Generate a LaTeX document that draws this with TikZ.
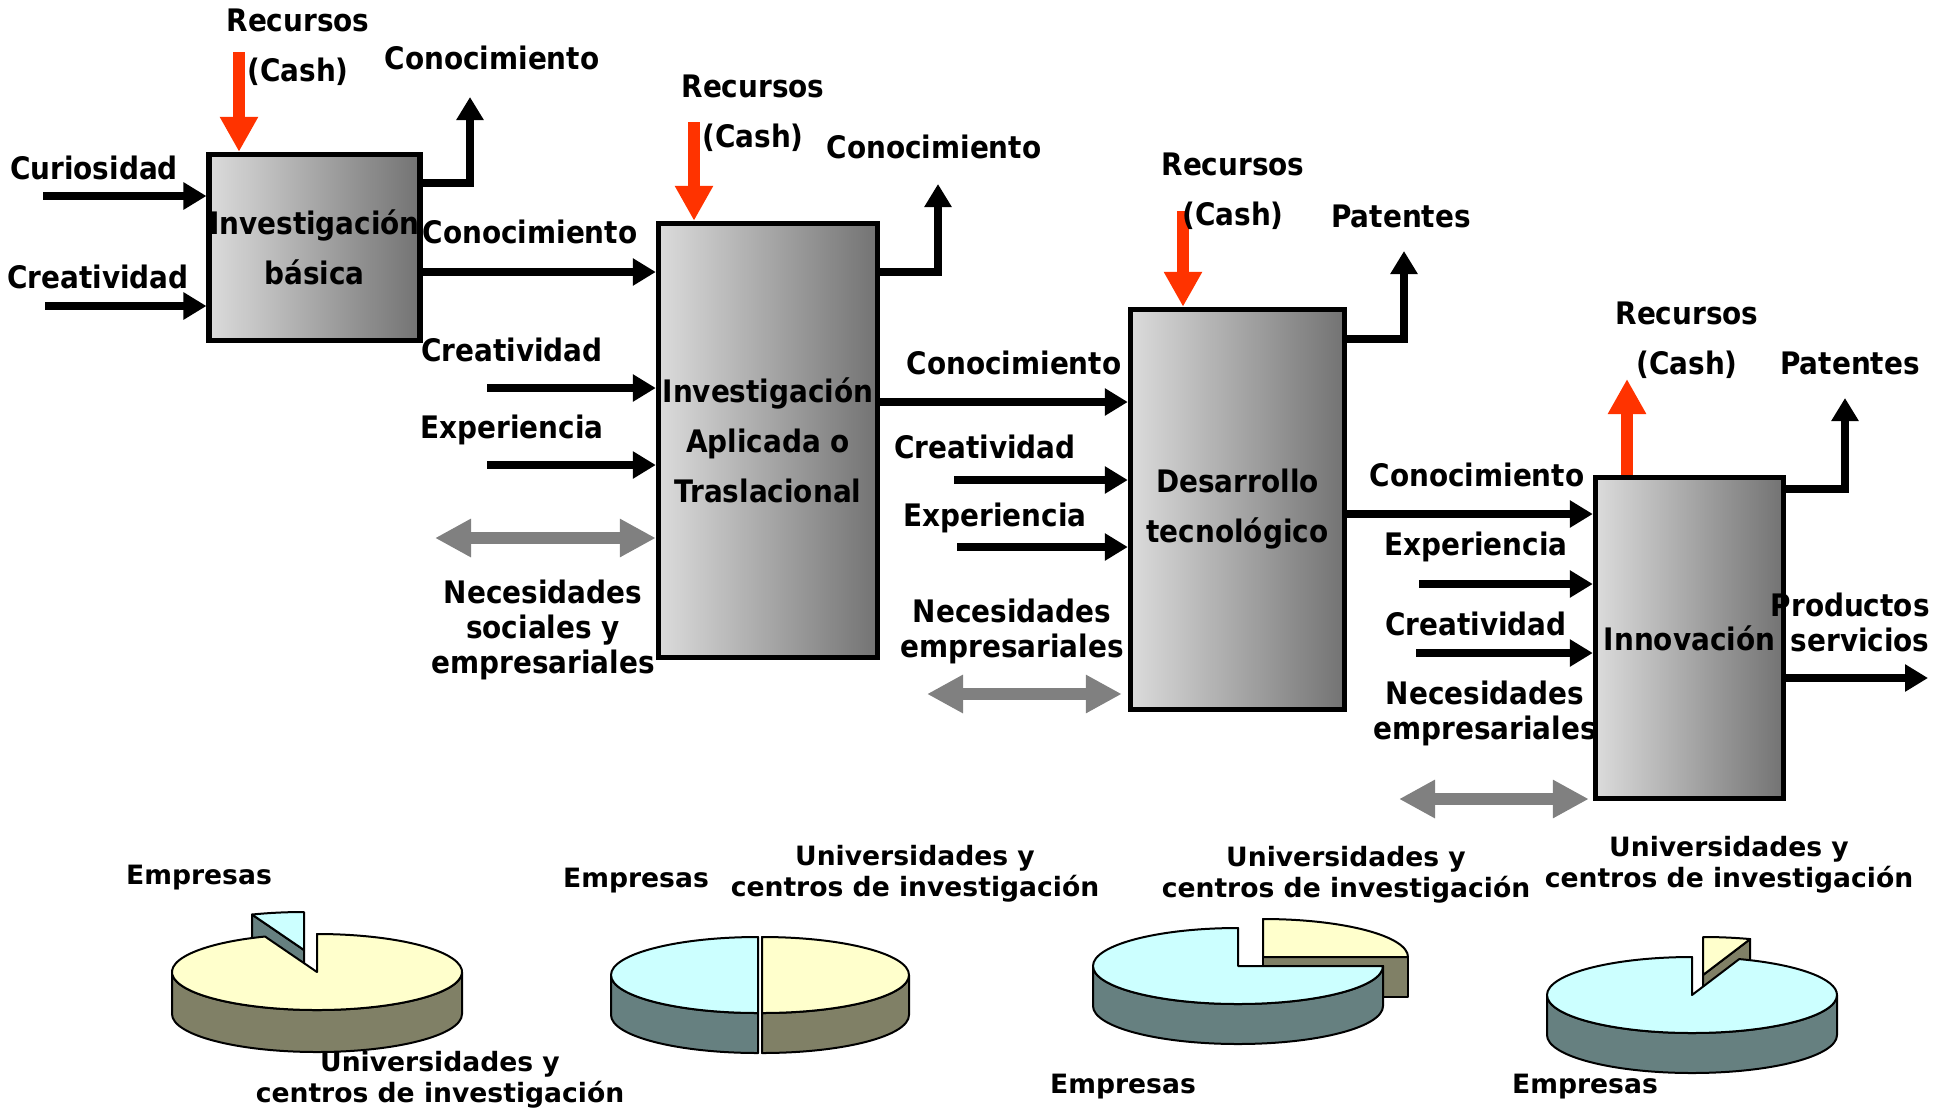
\documentclass[tikz,border=0pt]{standalone}
\usepackage{fontspec}
\setmainfont{DejaVu Sans Condensed}
\newfontfamily\tartafont{DejaVu Sans}
\usetikzlibrary{arrows.meta}

\definecolor{rojo}{HTML}{FF3300}
\definecolor{gris}{HTML}{808080}
\definecolor{cieloTop}{HTML}{CCFFFF}
\definecolor{cieloLado}{HTML}{668080}
\definecolor{cremaTop}{HTML}{FFFFCC}
\definecolor{cremaLado}{HTML}{808066}

\newcommand\etiq{\bfseries\fontsize{15.5}{25}\selectfont}
\newcommand\etiqnec{\bfseries\fontsize{15.5}{17.5}\selectfont}
\newcommand\etiqtarta{\tartafont\bfseries\fontsize{13.3}{15.5}\selectfont}

\tikzset{
  caja/.style={draw, line width=2.7pt, left color=black!14, right color=black!55,
    align=center, font=\etiq, inner sep=0pt},
  flecha/.style={line width=4.3pt, -{Triangle[length=11.5pt,width=13pt]}},
  recurso/.style={rojo, line width=6pt, -{Triangle[length=17.5pt,width=18pt]}},
  necesidad/.style={gris, line width=6pt,
    {Triangle[length=18pt,width=18pt]}-{Triangle[length=18pt,width=18pt]}},
  texto/.style={font=\etiq, align=center, inner sep=0pt},
  textonec/.style={font=\etiqnec, align=center, inner sep=0pt},
  textotarta/.style={font=\etiqtarta, align=center, inner sep=0pt},
  pastel/.style={draw=black, line width=1pt, line join=round}
}

\begin{document}
\begin{tikzpicture}[x=0.5pt, y=-0.5pt]
\useasboundingbox (0,0) rectangle (1948,1114);

% las cuatro etapas
\node[caja, minimum width=98pt, minimum height=93pt] (ib) at (314.5,247.5) {Investigación\\básica};
\node[caja, minimum width=109.5pt, minimum height=217pt] (iat) at (768,440.5) {Investigación\\Aplicada o\\Traslacional};
\node[caja, minimum width=107pt, minimum height=200pt] (dt) at (1237.5,509.5) {Desarrollo\\tecnológico};
\node[caja, minimum width=94pt, minimum height=160.5pt] (inn) at (1689.5,638) {Innovación};

% extremos libres
\coordinate (cur) at (43,196);
\coordinate (cre1) at (45,306);
\coordinate (rec1) at (239,52);
\coordinate (sal1) at (470,97);
\coordinate (cre2) at (487,388);
\coordinate (exp2) at (487,465);
\coordinate (nec2) at (435,538);
\coordinate (rec2) at (694,122);
\coordinate (sal2) at (938,184);
\coordinate (cre3) at (954,480);
\coordinate (exp3) at (957,547);
\coordinate (nec3) at (927,694);
\coordinate (rec3) at (1183,211);
\coordinate (sal3) at (1404,251);
\coordinate (exp4) at (1419,584);
\coordinate (cre4) at (1416,653);
\coordinate (nec4) at (1399,799);
\coordinate (rec4) at (1627,379);
\coordinate (sal4) at (1845,398);
\coordinate (prod) at (1928,678);

% entradas y salidas
\draw[flecha] (cur) -- (cur -| ib.west);
\draw[flecha] (cre1) -- (cre1 -| ib.west);
\draw[recurso] (rec1) -- (rec1 |- ib.north);
\draw[flecha] (ib.east |- 0,183) -| (sal1);
\draw[flecha] (ib.east |- 0,272) -- (iat.west |- 0,272);

\draw[flecha] (cre2) -- (cre2 -| iat.west);
\draw[flecha] (exp2) -- (exp2 -| iat.west);
\draw[necesidad] (nec2) -- (nec2 -| iat.west);
\draw[recurso] (rec2) -- (rec2 |- iat.north);
\draw[flecha] (iat.east |- 0,272) -| (sal2);
\draw[flecha] (iat.east |- 0,402) -- (dt.west |- 0,402);

\draw[flecha] (cre3) -- (cre3 -| dt.west);
\draw[flecha] (exp3) -- (exp3 -| dt.west);
\draw[necesidad] (nec3) -- ([xshift=-3pt]nec3 -| dt.west);
\draw[recurso] (rec3) -- (rec3 |- dt.north);
\draw[flecha] (dt.east |- 0,339) -| (sal3);
\draw[flecha] (dt.east |- 0,514) -- (inn.west |- 0,514);

\draw[flecha] (exp4) -- (exp4 -| inn.west);
\draw[flecha] (cre4) -- (cre4 -| inn.west);
\draw[necesidad] (nec4) -- ([xshift=-2pt]nec4 -| inn.west);
\draw[recurso] (rec4 |- inn.north) -- (rec4);
\draw[flecha] (inn.east |- 0,489) -| (sal4);
\draw[flecha] (inn.east |- prod) -- (prod);

% etiquetas
\node[texto] (trec1) at (298,47) {Recursos\\(Cash)};
\node[texto] (trec2) at (753,113) {Recursos\\(Cash)};
\node[texto] (trec3) at (1233,191) {Recursos\\(Cash)};
\node[texto] (trec4) at (1687,340) {Recursos\\(Cash)};
\node[texto] (tsal1) at (492,58) {Conocimiento};
\node[texto] (tsal2) at (934,147) {Conocimiento};
\node[texto] (tsal3) at (1401,216) {Patentes};
\node[texto] (tsal4) at (1850,363) {Patentes};
\node[texto] (tcur) at (94,168) {Curiosidad};
\node[texto] (tcre1) at (98,277) {Creatividad};
\node[texto] (tcon2) at (530,232) {Conocimiento};
\node[texto] (tcre2) at (512,350) {Creatividad};
\node[texto] (texp2) at (512,430) {Experiencia};
\node[textonec] (tnec2) at (543,630) {Necesidades\\sociales y\\empresariales};
\node[texto] (tcon3) at (1014,363) {Conocimiento};
\node[texto] (tcre3) at (985,447) {Creatividad};
\node[texto] (texp3) at (995,518) {Experiencia};
\node[textonec] (tnec3) at (1012,631) {Necesidades\\empresariales};
\node[texto] (tcon4) at (1477,475) {Conocimiento};
\node[texto] (texp4) at (1476,547) {Experiencia};
\node[texto] (tcre4) at (1476,624) {Creatividad};
\node[textonec] (tnec4) at (1485,713) {Necesidades\\empresariales};
\node[textonec, align=right, anchor=east] (tprod) at (1930,622) {Productos\\servicios};

% tarta 1
\fill[cieloLado, pastel] (304,950) -- ++(-111:145 and 38) -- ++(0,42) -- (304,992) -- cycle;
\fill[cieloTop, pastel] (304,950) -- ++(-90:145 and 38) arc[start angle=-90, end angle=-111, x radius=145, y radius=38] -- cycle;
\fill[cremaLado, pastel] (172,972) -- ++(0,42) arc[start angle=180, end angle=0, x radius=145, y radius=38] -- ++(0,-42) arc[start angle=0, end angle=180, x radius=145, y radius=38] -- cycle;
\fill[cremaTop, pastel] (317,972) -- ++(-111:145 and 38) arc[start angle=-111, end angle=-450, x radius=145, y radius=38] -- cycle;

% tarta 2
\fill[cieloLado, pastel] (611,975) -- ++(0,40) arc[start angle=180, end angle=90, x radius=147, y radius=38] -- ++(0,-40) arc[start angle=90, end angle=180, x radius=147, y radius=38] -- cycle;
\fill[cieloTop, pastel] (758,975) -- ++(-90:147 and 38) arc[start angle=-90, end angle=-270, x radius=147, y radius=38] -- cycle;
\fill[cremaLado, pastel] (762,1013) -- ++(0,40) arc[start angle=90, end angle=0, x radius=147, y radius=38] -- ++(0,-40) arc[start angle=0, end angle=90, x radius=147, y radius=38] -- cycle;
\fill[cremaTop, pastel] (762,975) -- ++(90:147 and 38) arc[start angle=90, end angle=-90, x radius=147, y radius=38] -- cycle;

% tarta 3
\fill[cremaLado, pastel] (1263,957) -- ++(145,0) -- ++(0,40) -- (1263,997) -- cycle;
\fill[cremaTop, pastel] (1263,957) -- ++(0:145 and 38) arc[start angle=0, end angle=-90, x radius=145, y radius=38] -- cycle;
\fill[cieloLado, pastel] (1093,966) -- ++(0,40) arc[start angle=180, end angle=0, x radius=145, y radius=38] -- ++(0,-40) arc[start angle=0, end angle=180, x radius=145, y radius=38] -- cycle;
\fill[cieloTop, pastel] (1238,966) -- ++(-90:145 and 38) arc[start angle=-90, end angle=-360, x radius=145, y radius=38] -- cycle;

% tarta 4
\fill[cremaLado, pastel] (1703,975) -- ++(-71:145 and 38) -- ++(0,40) -- (1703,1015) -- cycle;
\fill[cremaTop, pastel] (1703,975) -- ++(-71:145 and 38) arc[start angle=-71, end angle=-90, x radius=145, y radius=38] -- cycle;
\fill[cieloLado, pastel] (1547,995) -- ++(0,40) arc[start angle=180, end angle=0, x radius=145, y radius=38] -- ++(0,-40) arc[start angle=0, end angle=180, x radius=145, y radius=38] -- cycle;
\fill[cieloTop, pastel] (1692,995) -- ++(-90:145 and 38) arc[start angle=-90, end angle=-431, x radius=145, y radius=38] -- cycle;

% etiquetas de las tartas
\node[textotarta] (emp1) at (199,878) {Empresas};
\node[textotarta] (uni1) at (440,1080) {Universidades y\\centros de investigación};
\node[textotarta] (emp2) at (636,881) {Empresas};
\node[textotarta] (uni2) at (915,874) {Universidades y\\centros de investigación};
\node[textotarta] (uni3) at (1346,875) {Universidades y\\centros de investigación};
\node[textotarta] (emp3) at (1123,1087) {Empresas};
\node[textotarta] (uni4) at (1729,865) {Universidades y\\centros de investigación};
\node[textotarta] (emp4) at (1585,1087) {Empresas};
\end{tikzpicture}
\end{document}
